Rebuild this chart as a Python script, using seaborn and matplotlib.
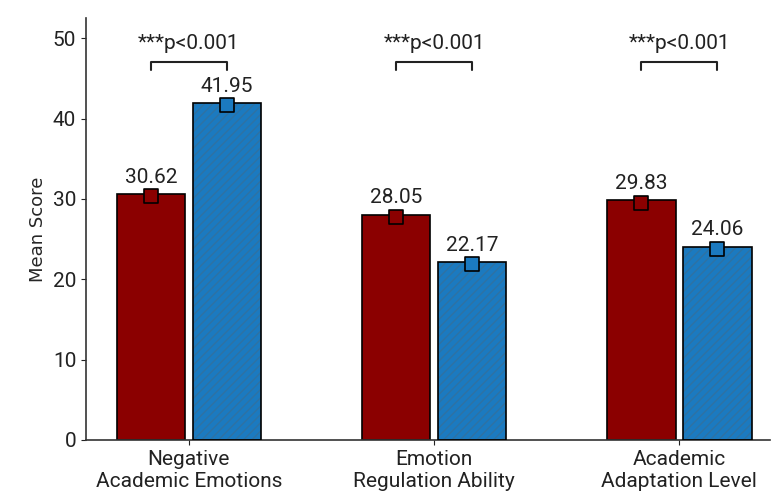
import pandas as pd
import matplotlib.pyplot as plt
import matplotlib.patches as mpatches
import seaborn as sns

# chart data
categories = ['Negative\nAcademic Emotions', 'Emotion\nRegulation Ability', 'Academic\nAdaptation Level']
groups = ['Group 1', 'Group 2']
group1_means = [30.62, 28.05, 29.83]
group2_means = [41.95, 22.17, 24.06]
p_labels = ['***p<0.001', '***p<0.001', '***p<0.001']

RED = '#8b0000'
BLUE = '#1b7ac0'


def make_chart():
    df = pd.DataFrame({
        'category': categories * 2,
        'group': [groups[0]] * 3 + [groups[1]] * 3,
        'score': group1_means + group2_means,
    })

    sns.set_style('ticks')
    plt.rcParams['font.family'] = ['Roboto', 'DejaVu Sans']

    fig = plt.figure(figsize=(7.74, 5.04), dpi=100)
    ax = fig.add_axes([0.111, 0.127, 0.884, 0.837])

    sns.barplot(data=df, x='category', y='score', hue='group',
                palette=[RED, BLUE], saturation=1, width=0.62, gap=0.1,
                edgecolor='black', linewidth=1.2, legend=False, ax=ax)

    bars = [p for p in ax.patches if p.get_height() > 0]
    bars = sorted(bars, key=lambda p: p.get_x())

    # subtle hatching on the blue bars, with a black outline drawn on top
    for p in bars:
        if p.get_facecolor()[2] > 0.5:
            p.set_hatch('////')
            p.set_edgecolor('#2f72a3')
            p.set_linewidth(0)
            ax.add_patch(mpatches.Rectangle((p.get_x(), p.get_y()), p.get_width(), p.get_height(),
                                            fill=False, edgecolor='black', linewidth=1.2, zorder=3))

    # markers and value labels
    for p in bars:
        cx = p.get_x() + p.get_width() / 2
        h = p.get_height()
        col = BLUE if p.get_facecolor()[2] > 0.5 else RED
        ax.scatter([cx], [h - 0.3], marker='s', s=95, color=col, edgecolor='black',
                   linewidth=1.2, zorder=5)
        ax.text(cx, h + 0.9, f'{h:.2f}', ha='center', va='bottom', fontsize=15, color='#222222')

    # significance brackets
    for i, lab in enumerate(p_labels):
        pair = [b for b in bars if abs(b.get_x() + b.get_width() / 2 - i) < 0.5]
        x1 = pair[0].get_x() + pair[0].get_width() / 2
        x2 = pair[1].get_x() + pair[1].get_width() / 2
        ax.plot([x1, x1, x2, x2], [46.0, 47.0, 47.0, 46.0], color='#222222', lw=1.5)
        ax.text((x1 + x2) / 2, 48.2, lab, ha='center', va='bottom', fontsize=15, color='#222222')

    ax.set_xlim(-0.42, 2.37)
    ax.set_ylim(0, 52.5)
    ax.set_yticks([0, 10, 20, 30, 40, 50])
    ax.set_xlabel('')
    ax.set_ylabel('Mean Score', fontsize=13, family=['DejaVu Sans'])
    ax.tick_params(axis='both', labelsize=15, colors='#222222')
    sns.despine(ax=ax)
    for s in ['left', 'bottom']:
        ax.spines[s].set_linewidth(1.2)
        ax.spines[s].set_color('#333333')

    plt.savefig('out.png', dpi=100)


if __name__ == '__main__':
    make_chart()
